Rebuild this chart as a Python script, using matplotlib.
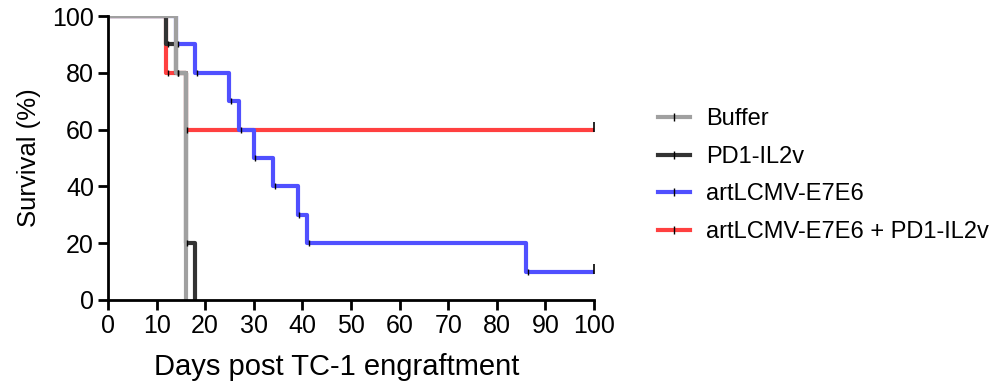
import matplotlib
matplotlib.use("Agg")
import matplotlib.pyplot as plt
from matplotlib.lines import Line2D

plt.rcParams["font.family"] = ["Liberation Sans", "DejaVu Sans"]

# Kaplan-Meier step data (days, survival %)
buffer_t = [0, 14, 16]
buffer_s = [100, 80, 0]
pd1_t = [0, 12, 14, 16, 18]
pd1_s = [100, 90, 80, 20, 0]
art_t = [0, 14, 18, 25, 27, 30, 34, 39, 41, 86, 100]
art_s = [100, 90, 80, 70, 60, 50, 40, 30, 20, 10, 10]
combo_t = [0, 12, 16, 100]
combo_s = [100, 80, 60, 60]

labels = ["Buffer", "PD1-IL2v", "artLCMV-E7E6", "artLCMV-E7E6 + PD1-IL2v"]
colors = ["#a0a0a0", "#333333", "#5050ff", "#ff4040"]

fig = plt.figure(figsize=(9.97, 3.86), dpi=100)
ax = fig.add_axes([0.1083, 0.2228, 0.4875, 0.7357])

series = [(combo_t, combo_s, colors[3]), (art_t, art_s, colors[2]),
          (pd1_t, pd1_s, colors[1]), (buffer_t, buffer_s, colors[0])]
for t, s, c in series:
    ax.step(t, s, where="post", color=c, linewidth=3, solid_capstyle="butt", zorder=2)

# censor-like tick marks at each step
for t, s, c in series:
    for ti, si in zip(t[1:], s[1:]):
        if si > 0 and ti < 100:
            ax.plot(ti + 0.35, si, marker="|", color="black", markersize=5,
                    markeredgewidth=1, zorder=3)
for t, s, c in series:
    if t[-1] == 100:
        ax.plot(100, s[-1] + 1, marker="|", color="black", markersize=7,
                markeredgewidth=1.2, zorder=3, clip_on=False)

ax.set_xlim(0, 100)
ax.set_ylim(0, 100)
ax.set_xticks(range(0, 101, 10))
ax.set_yticks(range(0, 101, 20))
for side in ["top", "right"]:
    ax.spines[side].set_visible(False)
for side in ["left", "bottom"]:
    ax.spines[side].set_linewidth(2)
ax.tick_params(axis="both", width=2, length=7, labelsize=18, direction="out", pad=3)
ax.set_xlabel("Days post TC-1 engraftment", fontsize=21)
ax.xaxis.set_label_coords(0.471, -0.185)
ax.set_ylabel("Survival (%)", fontsize=18.5, labelpad=8)

handles = [Line2D([0], [0], color=c, linewidth=3, marker="|", markersize=6,
                  markeredgecolor="black", markeredgewidth=1) for c in colors]
fig.legend(handles, labels, loc="center left", bbox_to_anchor=(0.639, 0.545),
           frameon=False, fontsize=17, handlelength=1.36, labelspacing=0.66,
           handletextpad=0.68, borderpad=0.4)

fig.savefig("out.png", dpi=100)
